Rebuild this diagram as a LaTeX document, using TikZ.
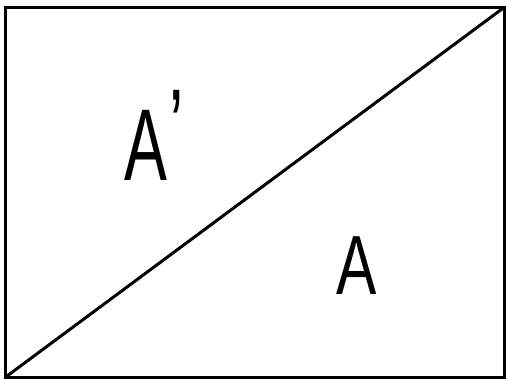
\documentclass[tikz,border=0pt]{standalone}
\usepackage{fontspec}
\setmainfont{Liberation Sans}
\begin{document}
\begin{tikzpicture}[x=1pt,y=1pt,
  frame/.style={line width=3pt, line join=miter},
  diag/.style={line width=3pt, line cap=round},
  lbl/.style={inner sep=0pt, outer sep=0pt, anchor=base west}]
\useasboundingbox (0,0) rectangle (507,381);
\coordinate (bl) at (5,3.5);
\coordinate (tr) at (504,373.5);
\draw[frame] (bl) rectangle (tr);
\draw[diag] (bl) -- (tr);
\node[lbl] (aprime) at (124,200) {\fontsize{102}{102}\selectfont\scalebox{0.63}[1]{A\kern4pt\raisebox{20pt}{\textquoteright}}};
\node[lbl] (a) at (336,86) {\fontsize{84}{84}\selectfont\scalebox{0.72}[1]{A}};
\end{tikzpicture}
\end{document}
